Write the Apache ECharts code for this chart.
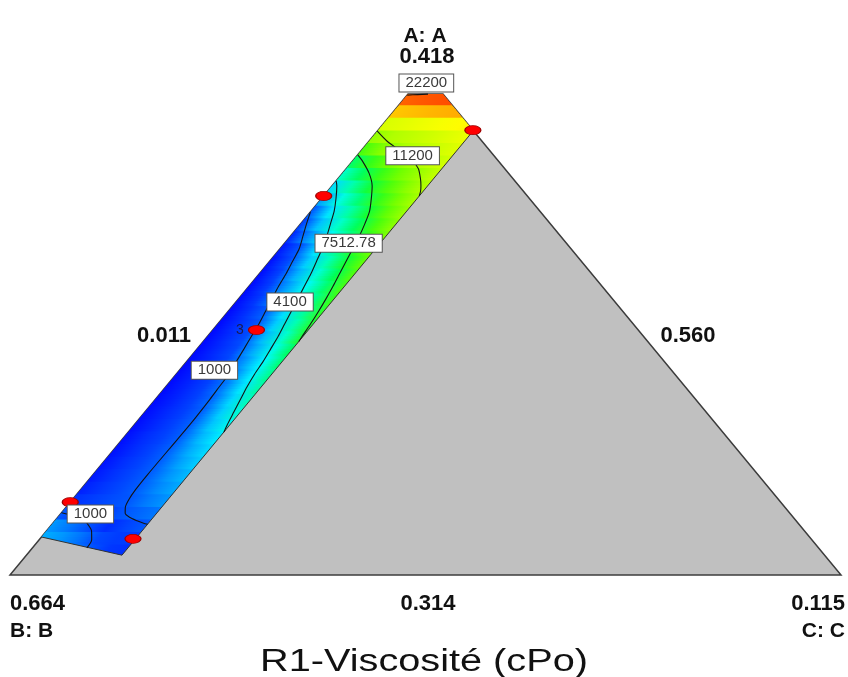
<!DOCTYPE html>
<html><head><meta charset="utf-8">
<script src="https://cdn.jsdelivr.net/npm/echarts@6/dist/echarts.min.js"></script>
<style>html,body{margin:0;padding:0;background:#fff}#c{width:848px;height:677px}</style>
</head><body><div id="c"></div>
<script>
// Ternary coordinates: a = share of A (apex, top), c = share of C (bottom right); b = 1 - a - c
const outerShape   = [[0,0],[0,1],[0.958,0.042],[0.958,0]];               // [a, c]
const stripOutline = [[0.0757,0],[0.0395,0.115],[0.885,0.115],[0.958,0.042],[0.958,0]];
const stripWidthC  = 0.115;

// response field (viscosity, cPo) read along rows of constant a, at fractions u of the strip width
const rowA = [0.05,0.075,0.10,0.125,0.15,0.175,0.20,0.225,0.25,0.275,0.30,0.325,0.35,0.375,0.40,0.425,0.45,0.475,0.50,0.525,0.55,0.575,0.60,0.625,0.65,0.675,0.70,0.725,0.75,0.775,0.80,0.825,0.85,0.875,0.90,0.925,0.95];
const sampleU = [0,0.2,0.4,0.6,0.8,1.0];
const fieldRows = [
  [2400,2000,1500,960,750,700],
  [2300,1900,1350,880,780,800],
  [1900,1400,950,680,850,1000],
  [1000,780,730,950,1160,1400],
  [700,800,900,1000,1450,1900],
  [600,740,880,1090,1670,2250],
  [550,710,870,1110,1860,2600],
  [520,690,860,1140,2070,3000],
  [500,670,850,1160,2280,3400],
  [480,660,830,1140,2490,3850],
  [450,640,830,1160,2750,4400],
  [440,630,810,1180,2950,4900],
  [420,620,820,1290,3230,5400],
  [410,620,830,1430,3570,5800],
  [400,620,840,1570,3870,6200],
  [400,630,860,1890,4100,6600],
  [400,650,890,2220,4470,6900],
  [400,660,920,2550,4920,7600],
  [400,690,970,2950,5360,7800],
  [400,710,1110,3410,5750,8100],
  [420,750,1570,3870,6150,8400],
  [430,800,2030,4320,6520,8700],
  [450,840,2430,4760,6960,9000],
  [500,920,2980,5270,7400,9300],
  [550,1000,3580,5750,7800,9700],
  [650,1870,4300,6310,8250,10100],
  [800,2740,4950,6850,8690,10500],
  [1000,3580,5580,7420,9160,10900],
  [2000,4560,6410,8130,9660,11300],
  [3300,5480,7330,8810,10260,11800],
  [5000,6790,8270,9550,10820,12300],
  [6600,8180,9520,10860,11890,12800],
  [8600,10090,11360,12010,12650,13300],
  [10500,11490,12070,12640,13220,13800],
  [13000,13400,13800,14200,14600,15000],
  [16500,16800,17100,17300,17500,17700],
  [20000,20400,20700,20900,21000,21100]
];

// contour lines, points as [a, c]
const contour1000 = [[0.723,0],[0.70,0.0069],[0.675,0.0150],[0.65,0.0230],[0.625,0.0276],[0.60,0.0322],[0.575,0.0357],[0.55,0.0403],[0.525,0.0449],[0.50,0.0495],[0.475,0.0529],[0.45,0.0564],[0.425,0.0598],[0.40,0.0633],[0.375,0.0644],[0.35,0.0656],[0.30,0.0667],[0.25,0.0661],[0.20,0.0656],[0.17,0.0661],[0.15,0.0679],[0.135,0.0713],[0.123,0.0771],[0.115,0.0863],[0.108,0.0989],[0.103,0.1093],[0.101,0.115]];
const contour1000b = [[0.124,0],[0.118,0.0173],[0.110,0.0345],[0.104,0.0403],[0.088,0.0541],[0.070,0.0633],[0.054,0.0656]];
const contour4100 = [[0.785,0],[0.775,0.0058],[0.75,0.0173],[0.725,0.0276],[0.70,0.0357],[0.675,0.0437],[0.65,0.0506],[0.625,0.0564],[0.60,0.0621],[0.575,0.0667],[0.55,0.0713],[0.525,0.0759],[0.50,0.0805],[0.475,0.0851],[0.45,0.0886],[0.425,0.0920],[0.40,0.0943],[0.375,0.0978],[0.35,0.1024],[0.325,0.1070],[0.30,0.1116],[0.285,0.115]];
const contour7512 = [[0.837,0],[0.825,0.0115],[0.80,0.0322],[0.775,0.0483],[0.75,0.0598],[0.725,0.0702],[0.70,0.0771],[0.675,0.0828],[0.65,0.0874],[0.625,0.0920],[0.60,0.0966],[0.575,0.1012],[0.55,0.1052],[0.525,0.1087],[0.50,0.1116],[0.475,0.1139],[0.465,0.115]];
const contour11200 = [[0.884,0],[0.865,0.0207],[0.85,0.0403],[0.83,0.0667],[0.81,0.0863],[0.79,0.0989],[0.775,0.1070],[0.765,0.1116],[0.755,0.115]];
const contour22200 = [[0.956,0],[0.957,0.012],[0.958,0.024]];
const contourLabels = [
  {text:'22200',   a:0.980, c:0.011},
  {text:'11200',   a:0.835, c:0.067},
  {text:'7512.78', a:0.661, c:0.077},
  {text:'4100',    a:0.544, c:0.065},
  {text:'1000',    a:0.408, c:0.042},
  {text:'1000',    a:0.1215,c:0.036}
];
// design points [a, c] and their replicate labels
const designPoints = [[0.886,0.114],[0.755,0],[0.488,0.0526],[0.145,0],[0.072,0.112]];
const designPointLabels = ['','','3','',''];

// ---- helpers ----
const FONT = '"Liberation Sans", Arial, sans-serif';
const toXY = p => [p[1] + p[0] / 2, p[0]];
const colorScale = [[300,'#0000ff'],[500,'#0010ff'],[700,'#0030ff'],[1000,'#0058ff'],[1500,'#0080ff'],[2200,'#00a8ff'],[3000,'#00d0ff'],[4100,'#00f8ff'],[5000,'#00ffc8'],[6000,'#00ff90'],[7000,'#00ff50'],[7500,'#18ff30'],[8500,'#40ff10'],[9500,'#70ff00'],[11200,'#a8ff00'],[13000,'#d8ff00'],[14500,'#ffff00'],[16200,'#ffd000'],[17800,'#ffa000'],[19500,'#ff7000'],[21000,'#ff4800'],[22500,'#ff2000']];
function hex(c){return [parseInt(c.substr(1,2),16),parseInt(c.substr(3,2),16),parseInt(c.substr(5,2),16)];}
function valueColor(v){
  if (v <= colorScale[0][0]) return colorScale[0][1];
  for (let i=1;i<colorScale.length;i++){
    if (v <= colorScale[i][0]){
      const t=(v-colorScale[i-1][0])/(colorScale[i][0]-colorScale[i-1][0]);
      const A=hex(colorScale[i-1][1]),B=hex(colorScale[i][1]);
      return 'rgb('+A.map((x,k)=>Math.round(x+(B[k]-x)*t)).join(',')+')';
    }
  }
  return colorScale[colorScale.length-1][1];
}
function clipPoly(subject, clip){
  let area=0;
  for (let i=0;i<clip.length;i++){const P=clip[i],Q=clip[(i+1)%clip.length];area+=P[0]*Q[1]-Q[0]*P[1];}
  const s=Math.sign(area);
  let out=subject;
  for (let i=0;i<clip.length && out.length;i++){
    const A=clip[i],B=clip[(i+1)%clip.length];
    const side=p=>(B[0]-A[0])*(p[1]-A[1])-(B[1]-A[1])*(p[0]-A[0]);
    const input=out; out=[];
    for (let j=0;j<input.length;j++){
      const P=input[j],Q=input[(j+1)%input.length];
      const dp=side(P),dq=side(Q);
      const pin=s*dp>=-1e-12,qin=s*dq>=-1e-12;
      const inter=()=>{const t=dp/(dp-dq);return [P[0]+t*(Q[0]-P[0]),P[1]+t*(Q[1]-P[1])];};
      if (pin){out.push(P); if(!qin) out.push(inter());}
      else if (qin) out.push(inter());
    }
  }
  return out;
}
const stripXY = stripOutline.map(toXY);
const SUB = 5;   // each row of readings is painted as thin bands that follow the strip's slant

const chart = echarts.init(document.getElementById('c'), null, {renderer:'canvas'});

const lineSeries = (pts, z) => ({
  type:'line', data: pts.map(toXY), symbol:'none', showSymbol:false, smooth:0.25,
  lineStyle:{color:'#141414', width:1.1}, z: z, silent:true, animation:false
});

const textEl = (t, x, y, size, weight, align, sx) => ({
  type:'text', x:x, y:y, scaleX: sx || 1, silent:true,
  style:{text:t, x:0, y:0, fill:'#111', font: weight+' '+size+'px '+FONT, align:align, verticalAlign:'middle'}
});

chart.setOption({
  animation:false,
  backgroundColor:'#ffffff',
  grid:{left:10, right:7, top:73, bottom:102},
  xAxis:{type:'value', min:0, max:1, show:false},
  yAxis:{type:'value', min:0, max:1, show:false},
  series:[
    { // gray simplex region
      type:'custom', z:1, silent:true,
      data:[toXY(outerShape[0])],
      renderItem:(params, api) => ({
        type:'polygon',
        shape:{points: outerShape.map(p => api.coord(toXY(p)))},
        style:{fill:'#c0c0c0', stroke:'#3c3c3c', lineWidth:1.5}
      })
    },
    { // colour field rows
      type:'custom', z:2, silent:true,
      data: rowA.map(a => [stripWidthC/2 + a/2, a]),
      renderItem:(params, api) => {
        const i = params.dataIndex;
        const lo = i === 0 ? rowA[0] - (rowA[1]-rowA[0])/2 : (rowA[i-1]+rowA[i])/2;
        const hi = i === rowA.length-1 ? rowA[i] + (rowA[i]-rowA[i-1])/2 : (rowA[i]+rowA[i+1])/2;
        const stops = sampleU.map((u,k) => ({offset:u, color: valueColor(fieldRows[i][k])}));
        const children = [];
        for (let s = 0; s < SUB; s++) {
          const b0 = lo + (hi-lo)*s/SUB - ((i>0||s>0) ? 0.0018 : 0);
          const b1 = lo + (hi-lo)*(s+1)/SUB;
          const rect = [[b0/2,b0],[stripWidthC+b0/2,b0],[stripWidthC+b1/2,b1],[b1/2,b1]];
          const poly = clipPoly(rect, stripXY);
          if (poly.length < 3) continue;
          const am = (b0+b1)/2;
          const pL = api.coord([am/2, am]), pR = api.coord([stripWidthC + am/2, am]);
          children.push({
            type:'polygon',
            shape:{points: poly.map(p => api.coord(p))},
            style:{fill: new echarts.graphic.LinearGradient(pL[0], pL[1], pR[0], pR[1], stops, true)}
          });
        }
        return {type:'group', children: children};
      }
    },
    { // strip lower/right boundary
      type:'line', data:[stripOutline[0],stripOutline[1],stripOutline[2]].map(toXY),
      symbol:'none', lineStyle:{color:'#333', width:1}, z:3, silent:true
    },
    lineSeries(contour1000, 4),
    lineSeries(contour1000b, 4),
    lineSeries(contour4100, 4),
    lineSeries(contour7512, 4),
    lineSeries(contour11200, 4),
    lineSeries(contour22200, 4),
    { // design points
      type:'scatter', z:5, silent:true,
      symbol:'circle', symbolSize:[16,9],
      itemStyle:{color:'#ff0000', borderColor:'#a00000', borderWidth:1, opacity:1},
      data: designPoints.map((p,i) => ({
        value: toXY(p),
        label:{show: designPointLabels[i] !== '', formatter: designPointLabels[i], position:'left', distance:4,
               color:'#1a1a50', fontSize:14, fontFamily:FONT}
      }))
    },
    { // contour value labels
      type:'scatter', z:6, silent:true,
      symbol:'rect', symbolSize:1, itemStyle:{color:'rgba(0,0,0,0)', opacity:1},
      data: contourLabels.map(l => ({name:l.text, value: toXY([l.a, l.c])})),
      label:{show:true, position:'inside', formatter:'{b}', backgroundColor:'#ffffff', opacity:1,
             borderColor:'#555555', borderWidth:1, padding:[1,6], fontSize:15, lineHeight:15,
             fontFamily:FONT, color:'#3a3a3a'}
    }
  ],
  graphic:[
    textEl('A: A', 425, 36, 21, 'bold', 'center'),
    textEl('0.418', 427, 57, 22, 'bold', 'center'),
    textEl('0.011', 164, 336, 22, 'bold', 'center'),
    textEl('0.560', 688, 336, 22, 'bold', 'center'),
    textEl('0.664', 10, 604, 22, 'bold', 'left'),
    textEl('B: B', 10, 631, 21, 'bold', 'left'),
    textEl('0.314', 428, 604, 22, 'bold', 'center'),
    textEl('0.115', 845, 604, 22, 'bold', 'right'),
    textEl('C: C', 845, 631, 21, 'bold', 'right'),
    textEl('R1-Viscosité (cPo)', 424, 662, 31, 'normal', 'center', 1.28)
  ]
});
</script></body></html>
